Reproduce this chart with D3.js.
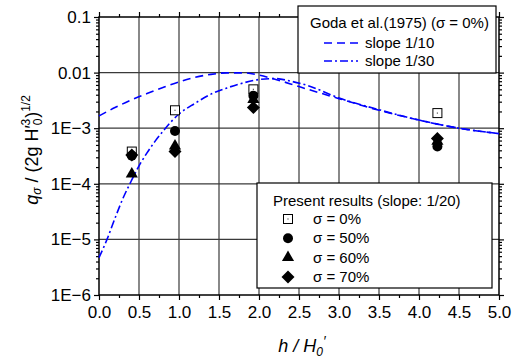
<!DOCTYPE html>
<html>
<head>
<meta charset="utf-8">
<script src="https://cdn.jsdelivr.net/npm/d3@7"></script>
<style>
    body { margin: 0; background: #fff; }
    svg { display: block; font-family: "Liberation Sans", Arial, sans-serif; }
</style>
</head>
<body>
<svg id="chart" width="527" height="361"></svg>
<script>
// Goda et al. (1975) curves, sigma = 0%
var godaX10 = [0, 0.2, 0.4, 0.6, 0.8, 1.0, 1.2, 1.4, 1.6, 1.8, 2.0, 2.2, 2.5, 3.0, 3.5, 4.0, 4.5, 5.0];
var godaQ10 = [1.66e-3, 2.35e-3, 3.2e-3, 4.2e-3, 5.4e-3, 6.8e-3, 8.2e-3, 9.3e-3, 9.9e-3, 9.9e-3, 9.0e-3, 7.6e-3, 5.6e-3, 3.4e-3, 2.1e-3, 1.4e-3, 1.0e-3, 8.0e-4];
var godaX30 = [0, 0.1, 0.2, 0.3, 0.4, 0.5, 0.6, 0.7, 0.8, 0.9, 1.0, 1.2, 1.4, 1.6, 1.8, 2.0, 2.2, 2.4, 2.6, 3.0, 3.5, 4.0, 4.5, 5.0];
var godaQ30 = [4.7e-6, 1.0e-5, 2.4e-5, 5.5e-5, 1.1e-4, 2.1e-4, 3.6e-4, 5.8e-4, 8.8e-4, 1.3e-3, 1.8e-3, 2.8e-3, 4.1e-3, 5.3e-3, 6.5e-3, 7.5e-3, 7.8e-3, 7.0e-3, 5.9e-3, 3.5e-3, 2.15e-3, 1.4e-3, 1.0e-3, 8.0e-4];

// present results, slope 1/20
var resultX = [0.41, 0.95, 1.93, 4.23];
var sigma0 = [3.8e-4, 2.1e-3, 5.0e-3, 1.87e-3];
var sigma50 = [3.2e-4, 8.9e-4, 3.85e-3, 4.7e-4];
var sigma60 = [1.5e-4, 4.8e-4, 3.3e-3, 5.8e-4];
var sigma70 = [3.3e-4, 3.8e-4, 2.35e-3, 6.5e-4];

var xTicks = [0, 0.5, 1, 1.5, 2, 2.5, 3, 3.5, 4, 4.5, 5];
var yTicks = [1e-6, 1e-5, 1e-4, 1e-3, 1e-2, 1e-1];
var yTickLabels = ["1E\u22126", "1E\u22125", "1E\u22124", "1E\u22123", "0.01", "0.1"];

var svg = d3.select("#chart");
var x = d3.scaleLinear().domain([0, 5]).range([99, 499]);
var y = d3.scaleLog().domain([1e-6, 0.1]).range([295, 17]);

// minor ticks
var xMinor = d3.range(0.25, 5, 0.5);
var yMinor = [];
yTicks.slice(0, -1).forEach(function (d) {
    for (var k = 2; k <= 9; k++) yMinor.push(d * k);
});

// grid
var grid = svg.append("g").attr("class", "grid")
    .attr("stroke", "#3a3a3a").attr("stroke-width", 1.2);
grid.selectAll("line.v").data(xTicks.slice(1, -1)).enter().append("line")
    .attr("x1", function (d) { return x(d); }).attr("x2", function (d) { return x(d); })
    .attr("y1", y(0.1)).attr("y2", y(1e-6));
grid.selectAll("line.h").data(yTicks.slice(1, -1)).enter().append("line")
    .attr("x1", x(0)).attr("x2", x(5))
    .attr("y1", function (d) { return y(d); }).attr("y2", function (d) { return y(d); });

// axes, all ticks outward
function styleAxis(g) {
    g.select(".domain").remove();
    g.selectAll(".tick line").attr("stroke", "#000").attr("stroke-width", 1.2);
    g.selectAll("text").attr("fill", "#000").style("font-size", "17px")
        .style("font-family", "'Liberation Sans', Arial, sans-serif");
}
svg.append("g").attr("transform", "translate(0," + y(1e-6) + ")")
    .call(d3.axisBottom(x).tickValues(xTicks).tickSize(5).tickPadding(6).tickFormat(d3.format(".1f")))
    .call(styleAxis);
svg.append("g").attr("transform", "translate(0," + y(1e-6) + ")")
    .call(d3.axisBottom(x).tickValues(xMinor).tickSize(3).tickFormat(""))
    .call(styleAxis);
svg.append("g").attr("transform", "translate(0," + y(0.1) + ")")
    .call(d3.axisTop(x).tickValues(xTicks).tickSize(5).tickFormat(""))
    .call(styleAxis);
svg.append("g").attr("transform", "translate(0," + y(0.1) + ")")
    .call(d3.axisTop(x).tickValues(xMinor).tickSize(3).tickFormat(""))
    .call(styleAxis);
svg.append("g").attr("transform", "translate(" + x(0) + ",0)")
    .call(d3.axisLeft(y).tickValues(yTicks).tickSize(5).tickPadding(3)
        .tickFormat(function (d, i) { return yTickLabels[i]; }))
    .call(styleAxis);
svg.append("g").attr("transform", "translate(" + x(0) + ",0)")
    .call(d3.axisLeft(y).tickValues(yMinor).tickSize(3).tickFormat(""))
    .call(styleAxis);
svg.append("g").attr("transform", "translate(" + x(5) + ",0)")
    .call(d3.axisRight(y).tickValues(yTicks).tickSize(5).tickFormat(""))
    .call(styleAxis);
svg.append("g").attr("transform", "translate(" + x(5) + ",0)")
    .call(d3.axisRight(y).tickValues(yMinor).tickSize(3).tickFormat(""))
    .call(styleAxis);

// frame
svg.append("rect")
    .attr("x", x(0)).attr("y", y(0.1))
    .attr("width", x(5) - x(0)).attr("height", y(1e-6) - y(0.1))
    .attr("fill", "none").attr("stroke", "#000").attr("stroke-width", 1.5);

// Goda curves
var line = d3.line()
    .x(function (d) { return x(d[0]); })
    .y(function (d) { return y(d[1]); })
    .curve(d3.curveMonotoneX);
var curves = svg.append("g").attr("fill", "none").attr("stroke", "#0000ff").attr("stroke-width", 1.6);
curves.append("path")
    .attr("d", line(d3.zip(godaX10, godaQ10)))
    .attr("stroke-dasharray", "8,5");
curves.append("path")
    .attr("d", line(d3.zip(godaX30, godaQ30)))
    .attr("stroke-dasharray", "8,3,2,3");

// markers
var diamondPath = "M0,-6.5L6.5,0L0,6.5L-6.5,0Z";
var trianglePath = d3.symbol().type(d3.symbolTriangle).size(64)();

function drawSquare(g, cx, cy) {
    g.append("rect").attr("x", cx - 4.5).attr("y", cy - 4.5).attr("width", 9).attr("height", 9)
        .attr("fill", "#fff").attr("stroke", "#000").attr("stroke-width", 1);
    g.append("rect").attr("x", cx - 0.6).attr("y", cy - 0.6).attr("width", 1.2).attr("height", 1.2)
        .attr("fill", "#555");
}
function drawCircle(g, cx, cy) {
    g.append("circle").attr("cx", cx).attr("cy", cy).attr("r", 5).attr("fill", "#000");
}
function drawTriangle(g, cx, cy) {
    g.append("path").attr("d", trianglePath).attr("transform", "translate(" + cx + "," + cy + ")").attr("fill", "#000");
}
function drawDiamond(g, cx, cy) {
    g.append("path").attr("d", diamondPath).attr("transform", "translate(" + cx + "," + cy + ")").attr("fill", "#000");
}

var pts = svg.append("g").attr("class", "points");
var seriesList = [
    { values: sigma0, draw: drawSquare, label: "0%" },
    { values: sigma50, draw: drawCircle, label: "50%" },
    { values: sigma60, draw: drawTriangle, label: "60%" },
    { values: sigma70, draw: drawDiamond, label: "70%" }
];
seriesList.forEach(function (s) {
    s.values.forEach(function (v, i) {
        s.draw(pts, x(resultX[i]), y(v));
    });
});

// legend: Goda et al.
var leg1 = svg.append("g");
leg1.append("rect").attr("x", 298).attr("y", 6).attr("width", 198).attr("height", 67)
    .attr("fill", "#fff").attr("stroke", "#000").attr("stroke-width", 1.2);
leg1.append("text").attr("x", 310).attr("y", 28).style("font-size", "15px")
    .text("Goda et al.(1975) (\u03c3 = 0%)");
leg1.append("line").attr("x1", 324).attr("x2", 358).attr("y1", 43).attr("y2", 43)
    .attr("stroke", "#0000ff").attr("stroke-width", 1.6).attr("stroke-dasharray", "8,5");
leg1.append("text").attr("x", 365).attr("y", 48).style("font-size", "15px").text("slope 1/10");
leg1.append("line").attr("x1", 324).attr("x2", 358).attr("y1", 61).attr("y2", 61)
    .attr("stroke", "#0000ff").attr("stroke-width", 1.6).attr("stroke-dasharray", "8,3,2,3");
leg1.append("text").attr("x", 365).attr("y", 66).style("font-size", "15px").text("slope 1/30");

// legend: present results
var leg2 = svg.append("g");
leg2.append("rect").attr("x", 257).attr("y", 183).attr("width", 235).attr("height", 105)
    .attr("fill", "#fff").attr("stroke", "#000").attr("stroke-width", 1.2);
leg2.append("text").attr("x", 273).attr("y", 206).style("font-size", "15px")
    .text("Present results (slope: 1/20)");
seriesList.forEach(function (s, i) {
    var ry = 219 + i * 19.3;
    s.draw(leg2, 288, ry);
    leg2.append("text").attr("x", 313).attr("y", ry + 5).style("font-size", "15px")
        .text("\u03c3 = " + s.label);
});

// axis titles
var xTitle = svg.append("text").attr("x", 302).attr("y", 352).attr("text-anchor", "middle")
    .style("font-size", "18px").style("font-style", "italic");
xTitle.append("tspan").text("h / H");
xTitle.append("tspan").attr("dy", 4).style("font-size", "12px").text("0");
xTitle.append("tspan").attr("dy", -10).style("font-size", "14px").text("\u2032");

var yTitle = svg.append("text")
    .attr("transform", "translate(38,150) rotate(-90)")
    .attr("text-anchor", "middle").style("font-size", "18px");
yTitle.append("tspan").style("font-style", "italic").text("q");
yTitle.append("tspan").attr("dy", 3).style("font-size", "12px").style("font-style", "italic").text("\u03c3");
yTitle.append("tspan").attr("dy", -3).text(" / (2g H\u2032");
yTitle.append("tspan").attr("dy", 4).style("font-size", "12px").text("0");
yTitle.append("tspan").attr("dx", -7).attr("dy", -12).style("font-size", "12px").text("3");
yTitle.append("tspan").attr("dx", 1).attr("dy", 8).text(")");
yTitle.append("tspan").attr("dy", -8).style("font-size", "12px").text("1/2");
</script>
</body>
</html>
